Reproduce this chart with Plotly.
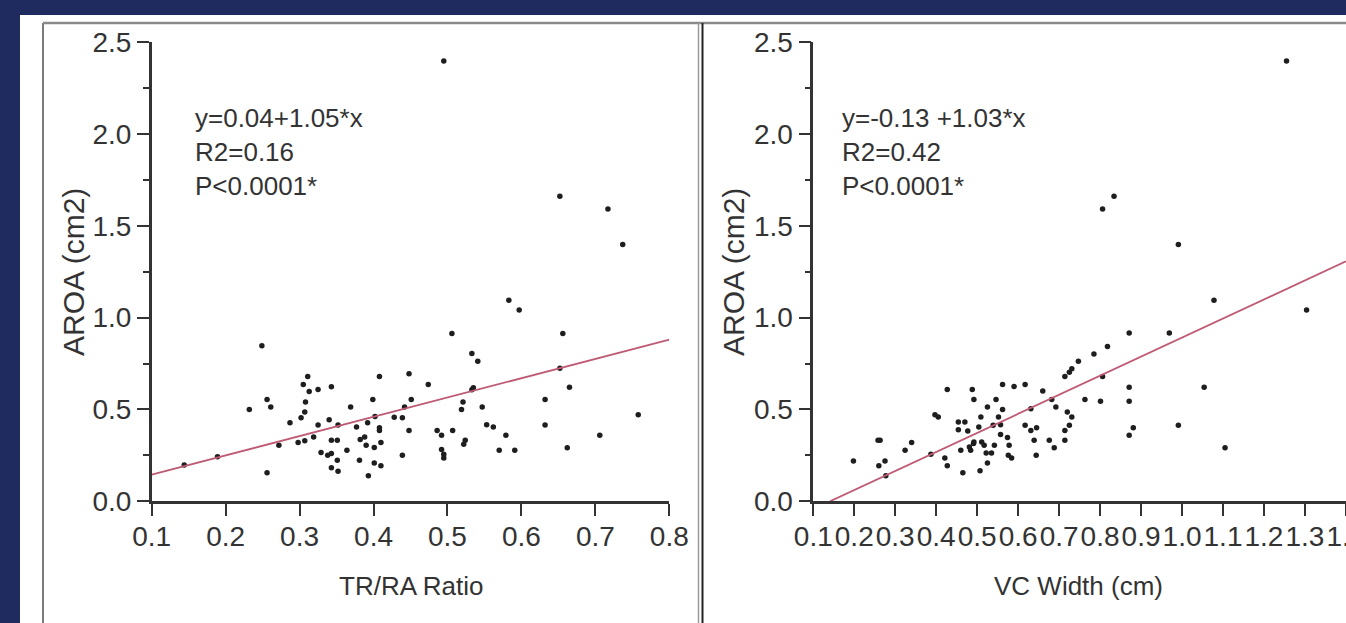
import plotly.graph_objects as go

W, H = 1346, 623

# ---------------- data ----------------
tr_ratio = [0.583,0.597,0.506,0.656,0.249,0.533,0.541,0.311,0.408,0.448,
            0.305,0.313,0.325,0.343,0.474,0.665,0.535,0.533,0.256,0.261,
            0.232,0.308,0.399,0.451,0.369,0.307,0.302,0.287,0.325,0.340,
            0.352,0.377,0.392,0.402,0.408,0.408,0.428,0.439,0.442,0.521,
            0.519,0.547,0.632,0.632,0.448,0.486,0.492,0.507,0.524,0.522,
            0.553,0.562,0.579,0.570,0.591,0.662,0.272,0.298,0.307,0.319,
            0.343,0.351,0.382,0.388,0.390,0.401,0.410,0.364,0.329,0.338,
            0.343,0.351,0.343,0.352,0.381,0.401,0.410,0.393,0.439,0.492,
            0.495,0.495,0.256,0.144,0.189,0.495,0.652,0.717,0.737,0.758,
            0.706,0.652]
tr_aroa = [1.095,1.041,0.914,0.914,0.847,0.805,0.762,0.679,0.679,0.694,
           0.636,0.598,0.609,0.623,0.636,0.621,0.618,0.607,0.554,0.513,
           0.500,0.540,0.554,0.554,0.513,0.486,0.455,0.428,0.415,0.444,
           0.415,0.404,0.428,0.461,0.401,0.386,0.457,0.455,0.513,0.540,
           0.500,0.513,0.554,0.415,0.386,0.386,0.359,0.386,0.332,0.311,
           0.417,0.404,0.359,0.278,0.278,0.291,0.305,0.320,0.329,0.350,
           0.332,0.332,0.336,0.350,0.305,0.293,0.320,0.278,0.266,0.251,
           0.260,0.224,0.182,0.164,0.224,0.209,0.193,0.139,0.251,0.282,
           0.256,0.236,0.155,0.198,0.242,2.396,1.660,1.591,1.398,0.471,
           0.359,0.724]

vc_width = [0.871,0.818,0.785,0.747,0.731,0.725,0.714,0.806,0.871,0.871,
            0.871,0.763,0.801,0.660,0.682,0.692,0.631,0.617,0.590,0.562,
            0.546,0.562,0.525,0.488,0.492,0.427,0.397,0.405,0.454,0.470,
            0.454,0.477,0.504,0.509,0.539,0.552,0.557,0.557,0.574,0.578,
            0.617,0.631,0.645,0.639,0.676,0.688,0.644,0.714,0.714,0.725,
            0.731,0.720,0.576,0.584,0.525,0.535,0.522,0.542,0.517,0.511,
            0.507,0.465,0.484,0.481,0.491,0.492,0.460,0.421,0.427,0.387,
            0.340,0.324,0.263,0.258,0.275,0.260,0.198,0.277,1.304,0.969,
            1.054,0.881,0.991,1.105,1.255,0.834,0.806,0.991,1.078]
vc_aroa = [0.916,0.843,0.802,0.762,0.721,0.702,0.679,0.679,0.621,0.544,
           0.359,0.554,0.544,0.600,0.554,0.513,0.504,0.636,0.625,0.636,
           0.554,0.500,0.513,0.609,0.554,0.609,0.471,0.459,0.432,0.432,
           0.390,0.383,0.404,0.459,0.414,0.459,0.417,0.363,0.347,0.305,
           0.414,0.386,0.401,0.332,0.332,0.291,0.251,0.332,0.386,0.414,
           0.459,0.486,0.251,0.236,0.209,0.263,0.263,0.305,0.305,0.323,
           0.166,0.155,0.278,0.296,0.314,0.323,0.278,0.236,0.193,0.256,
           0.320,0.278,0.332,0.332,0.220,0.193,0.220,0.139,1.041,0.916,
           0.621,0.401,0.414,0.291,2.396,1.660,1.591,1.398,1.095]

assert len(tr_ratio) == len(tr_aroa)
assert len(vc_width) == len(vc_aroa)

# regression lines (intercept, slope) as drawn
tr_fit = (0.04, 1.05)
vc_fit = (-0.146, 1.037)
tr_fit_x = [0.1, 0.8]
vc_fit_x = [-vc_fit[0] / vc_fit[1], 1.4]

tr_ticks = [0.1, 0.2, 0.3, 0.4, 0.5, 0.6, 0.7, 0.8]
vc_ticks = [0.1, 0.2, 0.3, 0.4, 0.5, 0.6, 0.7, 0.8, 0.9, 1.0, 1.1, 1.2, 1.3, 1.4]
y_ticks = [0.0, 0.5, 1.0, 1.5, 2.0, 2.5]

stats_left = "y=0.04+1.05*x<br>R2=0.16<br>P<0.0001*"
stats_right = "y=-0.13 +1.03*x<br>R2=0.42<br>P<0.0001*"
xtitle_left = "TR/RA Ratio"
xtitle_right = "VC Width (cm)"
ytitle = "AROA (cm2)"

# ---------------- styling ----------------
FONT = "Liberation Sans, Arial, Helvetica, sans-serif"
NAVY = "#1f2a5e"
AXC = "#333333"
DOT = "#1e1e1e"
LINEC = "#bf5a74"


def px(x):
    return x / W


def py(y):
    return 1 - y / H


fig = go.Figure()

fig.add_trace(go.Scatter(x=tr_ratio, y=tr_aroa, mode="markers",
                         marker=dict(size=5.5, color=DOT), xaxis="x", yaxis="y",
                         showlegend=False))
fig.add_trace(go.Scatter(x=tr_fit_x, y=[tr_fit[0] + tr_fit[1] * v for v in tr_fit_x],
                         mode="lines", line=dict(color=LINEC, width=1.8),
                         xaxis="x", yaxis="y", showlegend=False))
fig.add_trace(go.Scatter(x=vc_width, y=vc_aroa, mode="markers",
                         marker=dict(size=5.5, color=DOT), xaxis="x2", yaxis="y2",
                         showlegend=False))
fig.add_trace(go.Scatter(x=vc_fit_x, y=[vc_fit[0] + vc_fit[1] * v for v in vc_fit_x],
                         mode="lines", line=dict(color=LINEC, width=1.8),
                         xaxis="x2", yaxis="y2", showlegend=False))

ydom = [py(501.3), py(42.0)]
common_x = dict(showline=True, linewidth=2.5, linecolor=AXC, ticks="outside",
                ticklen=12, tickwidth=2, tickcolor=AXC, showgrid=False,
                zeroline=False, tickformat=".1f", tickmode="array",
                tickfont=dict(family=FONT, size=28, color=AXC),
                ticklabelstandoff=-4, automargin=False, ticklabeloverflow="allow")
common_y = dict(showline=True, linewidth=2.5, linecolor=AXC, ticks="outside",
                ticklen=12, tickwidth=2, tickcolor=AXC, showgrid=False,
                zeroline=False, tickformat=".1f", tickmode="array",
                tickvals=y_ticks, range=[0, 2.5], domain=ydom, automargin=False,
                tickfont=dict(family=FONT, size=28, color=AXC),
                minor=dict(tickmode="linear", tick0=0.25, dtick=0.5, ticks="outside",
                           ticklen=6, tickwidth=2, tickcolor=AXC, showgrid=False))

fig.update_layout(
    width=W, height=H, autosize=False,
    margin=dict(l=0, r=0, t=0, b=0, pad=0, autoexpand=False),
    paper_bgcolor=NAVY, plot_bgcolor="white",
    xaxis=dict(domain=[px(151.7), px(669.3)], range=[0.1, 0.8],
               tickvals=tr_ticks, anchor="y", **common_x),
    yaxis=dict(anchor="x", **common_y),
    xaxis2=dict(domain=[px(813.3), 1.0], range=[0.1, 1.4002],
                tickvals=vc_ticks, anchor="y2", **common_x),
    yaxis2=dict(anchor="x2", **common_y),
    font=dict(family=FONT, color=AXC),
)

shapes = [
    # white picture area
    dict(type="rect", xref="paper", yref="paper", x0=px(20), x1=1.0,
         y0=0, y1=py(15), fillcolor="white", line=dict(width=0), layer="below"),
    # panel frames
    dict(type="line", xref="paper", yref="paper", x0=px(43), x1=px(43),
         y0=py(23), y1=0, line=dict(color="#7a7a7a", width=2)),
    dict(type="line", xref="paper", yref="paper", x0=px(43), x1=1.0,
         y0=py(23), y1=py(23), line=dict(color="#8a8a8a", width=2.5)),
    dict(type="line", xref="paper", yref="paper", x0=px(698.5), x1=px(698.5),
         y0=py(23), y1=0, line=dict(color="#9a9a9a", width=1.5)),
    dict(type="line", xref="paper", yref="paper", x0=px(702.5), x1=px(702.5),
         y0=py(23), y1=0, line=dict(color="#222222", width=2)),
]
fig.update_layout(shapes=shapes)

ann = [
    dict(text=stats_left, x=px(193), y=py(151.5), xanchor="left", yanchor="middle",
         align="left", font=dict(family=FONT, size=26, color=AXC)),
    dict(text=stats_right, x=px(840), y=py(151.5), xanchor="left", yanchor="middle",
         align="left", font=dict(family=FONT, size=26, color=AXC)),
    dict(text=xtitle_left, x=px(411), y=py(586), xanchor="center", yanchor="middle",
         font=dict(family=FONT, size=26, color=AXC)),
    dict(text=xtitle_right, x=px(1078), y=py(586), xanchor="center", yanchor="middle",
         font=dict(family=FONT, size=26, color=AXC)),
    dict(text=ytitle, x=px(73), y=py(272), xanchor="center", yanchor="middle",
         textangle=-90, font=dict(family=FONT, size=30, color=AXC)),
    dict(text=ytitle, x=px(733), y=py(272), xanchor="center", yanchor="middle",
         textangle=-90, font=dict(family=FONT, size=30, color=AXC)),
]
for a in ann:
    a.update(xref="paper", yref="paper", showarrow=False)
fig.update_layout(annotations=ann)

fig.write_html("out.html")
